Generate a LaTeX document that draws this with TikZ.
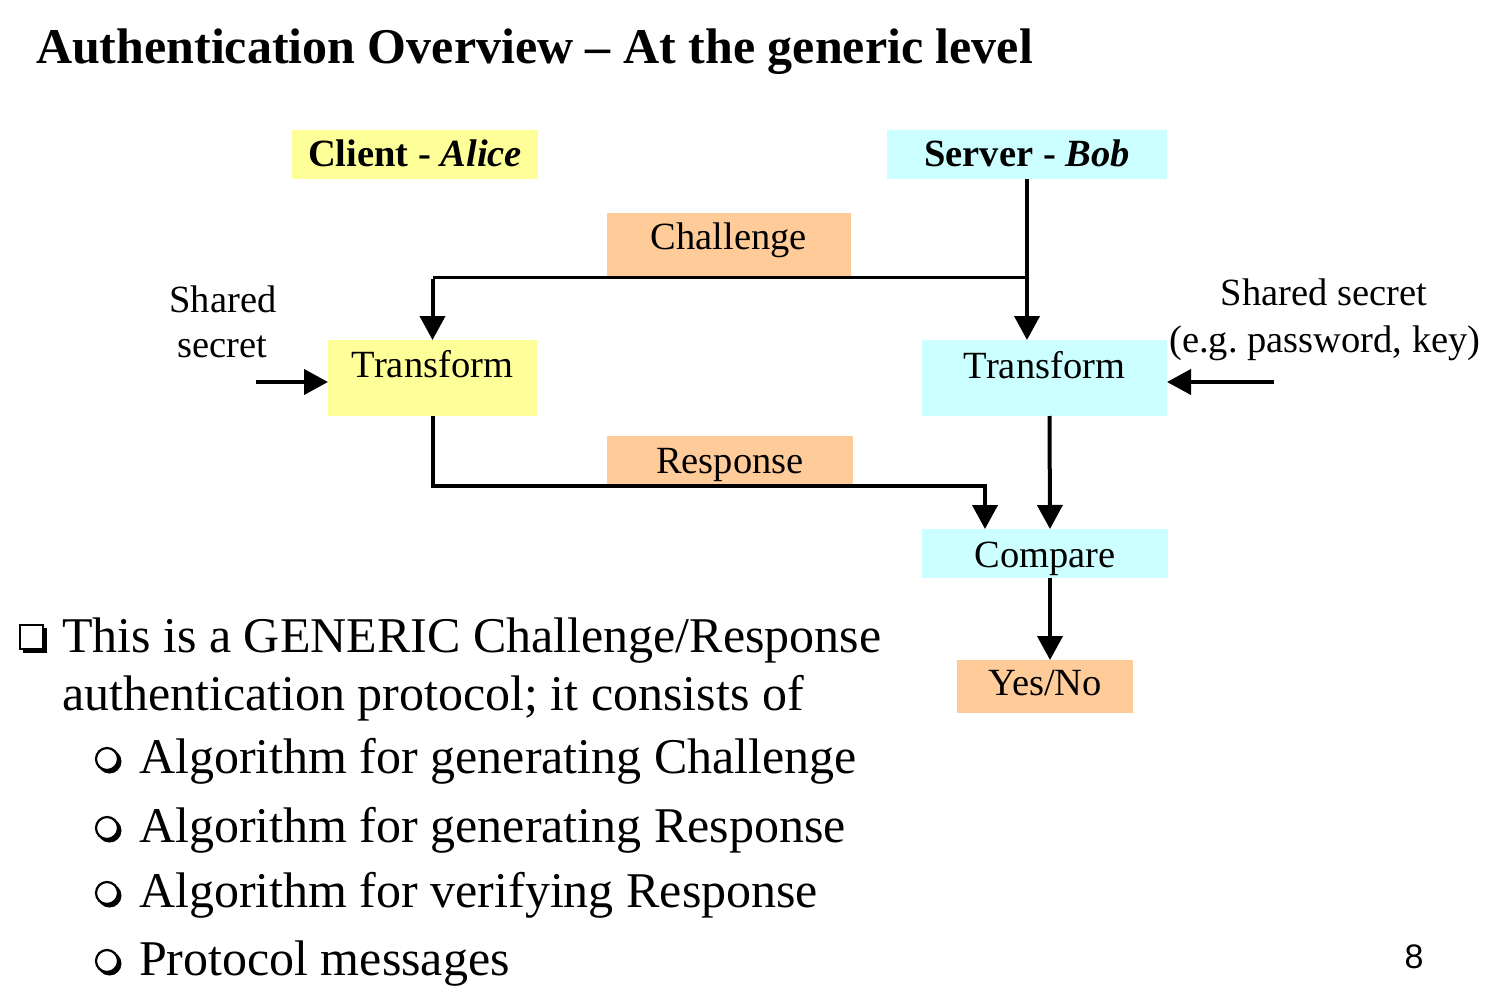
\documentclass[tikz,border=0pt]{standalone}
\usepackage{fontspec}
\setmainfont{Liberation Serif}
\newfontfamily\pagefont{Liberation Sans}
\usetikzlibrary{arrows.meta}
\definecolor{cyellow}{HTML}{FFFF99}
\definecolor{ccyan}{HTML}{CCFFFF}
\definecolor{corange}{HTML}{FFCC99}
\newcommand\dgfont{\fontsize{38.5}{46}\selectfont}
\newcommand\bigfont{\fontsize{50}{60}\selectfont}
\tikzset{
  box/.style={inner sep=0pt, outer sep=0pt, anchor=north west, font=\dgfont},
  lbl/.style={inner sep=0pt, outer sep=0pt, anchor=base, font=\dgfont},
  txt/.style={inner sep=0pt, outer sep=0pt, anchor=base west, font=\bigfont},
  arr/.style={line width=4pt, -{Triangle[width=25pt,length=24pt]}},
  link/.style={line width=3pt},
}
\begin{document}
\frenchspacing
\begin{tikzpicture}[x=1pt,y=-1pt]
\useasboundingbox (0,0) rectangle (1498,992);
% title
\node[txt, font=\bigfont\bfseries] (title) at (36,64) {Authentication Overview -- At the generic level};
% boxes
\node[box, fill=cyellow, minimum width=246pt, minimum height=49pt, text height=37pt, text depth=12pt] (cl) at (292,130) {\textbf{Client - \textit{Alice}}};
\node[box, fill=ccyan, minimum width=280pt, minimum height=49pt, text height=37pt, text depth=12pt] (srv) at (887,130) {\textbf{Server - \textit{Bob}}};
\node[box, fill=corange, minimum width=244pt, minimum height=64pt, text height=37pt, text depth=27pt] (ch) at (607,213) {Challenge};
\node[box, fill=cyellow, minimum width=209pt, minimum height=76pt, text height=37pt, text depth=39pt] (TL) at (328,340) {Transform};
\node[box, fill=ccyan, minimum width=245pt, minimum height=76pt, text height=38pt, text depth=38pt] (TR) at (922,340) {Transform};
\node[box, fill=corange, minimum width=246pt, minimum height=50pt, text height=37pt, text depth=13pt] (rsp) at (607,436) {Response};
\node[box, fill=ccyan, minimum width=246pt, minimum height=49pt, text height=38pt, text depth=11pt] (cmp) at (922,529) {Compare};
\node[box, fill=corange, minimum width=176pt, minimum height=53pt, text height=35pt, text depth=18pt] (yn) at (957,660) {Yes/No};
% shared secret labels
\node[lbl] (ls1) at (223,312) {Shared};
\node[lbl] (ls2) at (222,357) {secret};
\node[lbl] (rs1) at (1324,305) {Shared secret};
\node[lbl] (rs2) at (1325,352) {(e.g. password, key)};
% connectors
\coordinate (j) at (srv.south |- ch.south);
\coordinate (jl) at (TL.north |- ch.south);
\draw[link] (j) -- (jl);
\draw[arr] ([yshift=-1.5pt]jl) -- (TL.north);
\draw[arr] (srv.south) -- (srv.south |- TR.north);
\coordinate (cin) at (985,529);
\draw[arr, line join=miter] (TL.south) |- (rsp.south -| cin) -- (cin);
\draw[arr] ([xshift=5pt]TR.south) -- ([xshift=5pt]cmp.north);
\draw[arr] ([xshift=5pt]cmp.south) -- ([xshift=5pt]yn.north);
\coordinate (lsa) at (256,382);
\coordinate (rsa) at (1274,382);
\draw[arr] (lsa) -- (lsa -| TL.west);
\draw[arr] (rsa) -- (rsa -| TR.east);
% bullet list
\fill (23,628) rectangle (47,653);
\filldraw[fill=white, line width=2pt] (20,625) rectangle (43,649);
\node[txt] (b1) at (62,652) {This is a GENERIC Challenge/Response};
\node[txt] (b1b) at (62,710) {authentication protocol; it consists of};
\foreach \yy/\nm/\tx in {773/s1/Algorithm for generating Challenge, 842/s2/Algorithm for generating Response, 907/s3/Algorithm for verifying Response, 975/s4/Protocol messages}{
  \fill (109.5,\yy-11.5) circle (12pt);
  \filldraw[fill=white, line width=2.2pt] (107,\yy-14) circle (11pt);
  \node[txt] (\nm) at (139,\yy) {\tx};
}
% page number
\node[inner sep=0pt, anchor=base, font=\pagefont\fontsize{34}{40}\selectfont] (pg) at (1414,968) {8};
\end{tikzpicture}
\end{document}
